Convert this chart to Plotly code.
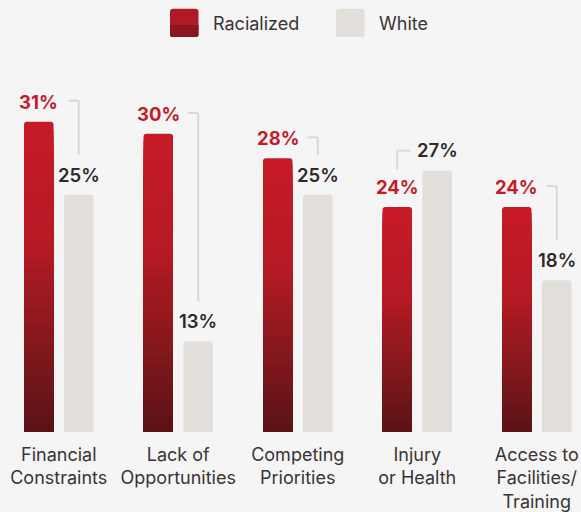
import plotly.graph_objects as go

# ---- data ----
categories = ["Financial<br>Constraints", "Lack of<br>Opportunities", "Competing<br>Priorities",
              "Injury<br>or Health", "Access to<br>Facilities/<br>Training"]
racialized = [31, 30, 28, 24, 24]
white = [25, 13, 25, 27, 18]
series_names = ["Racialized", "White"]

# ---- layout constants ----
W, H = 581, 512
M_T, M_B = 60, 78
PLOT_H = H - M_T - M_B
Y_LO = 5.57
PPU = 12.27                     # pixels per percentage point
Y_HI = Y_LO + PLOT_H / PPU
CAT_PX = 119.5                  # pixels per category
X_LO = -58.75 / CAT_PX
X_HI = X_LO + W / CAT_PX
BAR_W = 29.5 / CAT_PX
HALF_GAP = 20 / CAT_PX          # bar center offset from group center

RED_TOP = "#c41b27"
GRAY = "#e2deda"
BG = "#f5f5f5"
LINE_C = "#dcd7d3"
TXT = "#3a3434"
FONT = "Inter"

def lerp_color(f):
    stops = [(0.0, (0x58, 0x12, 0x16)), (0.3, (0x84, 0x18, 0x1c)),
             (0.62, (0xb6, 0x1a, 0x24)), (1.0, (0xc6, 0x1b, 0x27))]
    for (f0, c0), (f1, c1) in zip(stops[:-1], stops[1:]):
        if f <= f1:
            t = (f - f0) / (f1 - f0)
            c = [round(a + (b - a) * t) for a, b in zip(c0, c1)]
            return "rgb(%d,%d,%d)" % tuple(c)
    return "rgb(%d,%d,%d)" % stops[-1][1]

fig = go.Figure()

# red bars with vertical gradient: full bar first, then shorter darker bars on top
N = 40
for k in range(N):
    f = (N - k) / N
    ys = [Y_LO + (v - Y_LO) * f for v in racialized]
    fig.add_trace(go.Bar(
        x=categories, y=ys, offset=-HALF_GAP - BAR_W / 2, width=BAR_W,
        marker=dict(color=lerp_color(f), line=dict(width=0),
                    cornerradius=3 if k == 0 else 0),
        name=series_names[0], showlegend=False,
        hoverinfo="skip" if k else None,
    ))

fig.add_trace(go.Bar(
    x=categories, y=white, offset=HALF_GAP - BAR_W / 2, width=BAR_W,
    marker=dict(color=GRAY, line=dict(width=0), cornerradius=3),
    name=series_names[1], showlegend=False,
))

# value labels
px2y = lambda p: p / PPU
px2x = lambda p: p / CAT_PX
for i, (r, w) in enumerate(zip(racialized, white)):
    fig.add_annotation(x=i - HALF_GAP, y=r, yshift=20, text=f"{r}%", showarrow=False,
                       font=dict(family=FONT, size=18.5, color=RED_TOP, weight=700),
                       xref="x", yref="y", yanchor="middle")
    fig.add_annotation(x=i + HALF_GAP, y=w, yshift=20, text=f"{w}%", showarrow=False,
                       font=dict(family=FONT, size=18.5, color="#2e2a2a", weight=600),
                       xref="x", yref="y", yanchor="middle")
    # bracket connectors
    if r >= w:
        hx0 = i - HALF_GAP + px2x(30)
        hx1 = i + HALF_GAP
        hy = r + px2y(21)
        vy1 = w + px2y(40)
    else:
        hx0 = i + HALF_GAP - px2x(27)
        hx1 = i - HALF_GAP
        hy = w + px2y(20)
        vy1 = r + px2y(38)
    ln = dict(color=LINE_C, width=2)
    fig.add_shape(type="line", xref="x", yref="y", x0=hx0, x1=hx1, y0=hy, y1=hy, line=ln)
    fig.add_shape(type="line", xref="x", yref="y", x0=hx1, x1=hx1, y0=hy, y1=vy1, line=ln)

# custom legend (pixel -> paper)
def ppx(p):
    return p / W
def ppy(p):
    return (H - M_B - p) / PLOT_H

def rrect(x0, y0, x1, y1, r=3):
    rx, ry = r / W, r / PLOT_H
    X0, X1 = ppx(x0), ppx(x1)
    Y0, Y1 = ppy(y0), ppy(y1)   # Y0 top (larger)
    return (f"M{X0+rx},{Y0} L{X1-rx},{Y0} Q{X1},{Y0} {X1},{Y0-ry} "
            f"L{X1},{Y1+ry} Q{X1},{Y1} {X1-rx},{Y1} L{X0+rx},{Y1} "
            f"Q{X0},{Y1} {X0},{Y1+ry} L{X0},{Y0-ry} Q{X0},{Y0} {X0+rx},{Y0} Z")

legend_items = [(series_names[0], 170, "#b01a24"), (series_names[1], 336, GRAY)]
for name, lx, col in legend_items:
    fig.add_shape(type="path", xref="paper", yref="paper", path=rrect(lx, 8.5, lx + 28.5, 37),
                  fillcolor=col, line=dict(width=0), layer="above")
    fig.add_annotation(xref="paper", yref="paper", x=ppx(lx + 41), y=ppy(23.5),
                       text=name, showarrow=False, xanchor="left", yanchor="middle",
                       font=dict(family=FONT, size=18, color=TXT))
# darker lower part of red legend swatch
fig.add_shape(type="path", xref="paper", yref="paper",
              path=rrect(170, 25, 198.5, 37), fillcolor="#8a161e", line=dict(width=0), layer="above")
fig.add_shape(type="rect", xref="paper", yref="paper", x0=ppx(170), x1=ppx(198.5),
              y0=ppy(25), y1=ppy(29), fillcolor="#8a161e", line=dict(width=0), layer="above")

fig.update_layout(
    width=W, height=H, barmode="overlay",
    margin=dict(l=0, r=0, t=M_T, b=M_B, pad=0),
    paper_bgcolor=BG, plot_bgcolor=BG, showlegend=False,
    font=dict(family=FONT, size=18, color=TXT),
    xaxis=dict(type="category", range=[X_LO, X_HI], showgrid=False, zeroline=False,
               showline=False, ticks="", ticklabelstandoff=10,
               tickfont=dict(family=FONT, size=18, color=TXT), fixedrange=True),
    yaxis=dict(range=[Y_LO, Y_HI], visible=False, fixedrange=True),
)

fig.write_html("out.html", config={"displayModeBar": False},
               post_script="document.body.style.margin='0';document.body.style.overflow='hidden';")
